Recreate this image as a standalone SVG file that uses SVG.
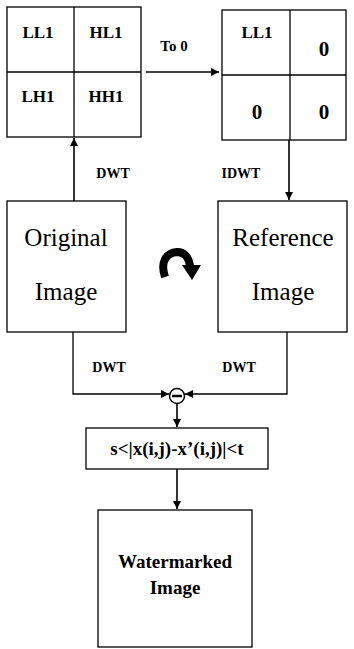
<svg xmlns="http://www.w3.org/2000/svg" width="354" height="649" viewBox="0 0 354 649">
<defs>
<marker id="ah" viewBox="0 0 10 10" refX="10" refY="5" markerWidth="8" markerHeight="8" markerUnits="userSpaceOnUse" orient="auto">
<path d="M0,0 L10,5 L0,10 z" fill="#000"/>
</marker>
<style>
.box{fill:#fff;stroke:#000;stroke-width:1.3}
.ln{fill:none;stroke:#000;stroke-width:1.3}
.cn{fill:none;stroke:#000;stroke-width:1.6}
text{font-family:'Liberation Serif','DejaVu Serif',serif;fill:#000;text-anchor:middle}
.b{font-weight:bold}
</style>
</defs>
<rect width="354" height="649" fill="#fff"/>

<g id="dwt-grid" font-family="Liberation Serif, DejaVu Serif, serif">
<rect class="box" x="7" y="7" width="134" height="130"/>
<line class="ln" x1="74" y1="7" x2="74" y2="137"/>
<line class="ln" x1="7" y1="72" x2="141" y2="72"/>
<text class="b" x="38" y="38" font-size="17">LL1</text>
<text class="b" x="106" y="38" font-size="17">HL1</text>
<text class="b" x="38" y="102" font-size="17">LH1</text>
<text class="b" x="106" y="102" font-size="17">HH1</text>
</g>

<g id="zeroed-grid" font-family="Liberation Serif, DejaVu Serif, serif">
<rect class="box" x="222" y="10" width="124" height="130"/>
<line class="ln" x1="290" y1="10" x2="290" y2="140"/>
<line class="ln" x1="222" y1="75" x2="346" y2="75"/>
<text class="b" x="257" y="38" font-size="17">LL1</text>
<text class="b" x="324" y="56" font-size="21">0</text>
<text class="b" x="257" y="119" font-size="21">0</text>
<text class="b" x="324" y="119" font-size="21">0</text>
</g>

<g id="original-image" font-family="Liberation Serif, DejaVu Serif, serif">
<rect class="box" x="7" y="201" width="119" height="131"/>
<text x="66" y="246" font-size="25">Original</text>
<text x="66" y="300" font-size="25">Image</text>
</g>

<g id="reference-image" font-family="Liberation Serif, DejaVu Serif, serif">
<rect class="box" x="218" y="201" width="129" height="131"/>
<text x="283" y="246" font-size="25">Reference</text>
<text x="283" y="300" font-size="25">Image</text>
</g>

<g id="subtract">
<circle cx="177" cy="396" r="7.5" fill="#fff" stroke="#000" stroke-width="1.5"/>
<line x1="172" y1="396" x2="182" y2="396" stroke="#000" stroke-width="2.5"/>
</g>

<g id="threshold" font-family="Liberation Serif, DejaVu Serif, serif">
<rect class="box" x="86" y="428" width="182" height="41"/>
<text class="b" x="177" y="455" font-size="19">s&lt;|x(i,j)-x’(i,j)|&lt;t</text>
</g>

<g id="watermarked-image" font-family="Liberation Serif, DejaVu Serif, serif">
<rect class="box" x="98" y="510" width="154" height="137"/>
<text class="b" x="175" y="568" font-size="19">Watermarked</text>
<text class="b" x="175" y="594" font-size="19">Image</text>
</g>

<g id="connectors" font-family="Liberation Serif, DejaVu Serif, serif">
<line class="cn" x1="74" y1="201" x2="74" y2="138" marker-end="url(#ah)"/>
<text class="b" x="113" y="178" font-size="14">DWT</text>
<line class="cn" x1="146" y1="72" x2="219" y2="72" marker-end="url(#ah)"/>
<text class="b" x="174" y="51" font-size="15">To 0</text>
<line class="cn" x1="289" y1="140" x2="289" y2="200" marker-end="url(#ah)"/>
<text class="b" x="241" y="178" font-size="14">IDWT</text>
<path class="ln" d="M73,332 V394 H169" marker-end="url(#ah)"/>
<path class="ln" d="M287,332 V394 H185" marker-end="url(#ah)"/>
<text class="b" x="109" y="372" font-size="14">DWT</text>
<text class="b" x="239" y="372" font-size="14">DWT</text>
<line class="cn" x1="177" y1="404" x2="177" y2="427" stroke-width="2.2" marker-end="url(#ah)"/>
<line class="cn" x1="177" y1="469" x2="177" y2="509" stroke-width="2.2" marker-end="url(#ah)"/>
<path d="M165,277 C160,262 166,253 177,252 C185,252 189,258 190,266" fill="none" stroke="#000" stroke-width="8"/>
<polygon points="182,265 201,265 192,280" fill="#000"/>
</g>
</svg>
